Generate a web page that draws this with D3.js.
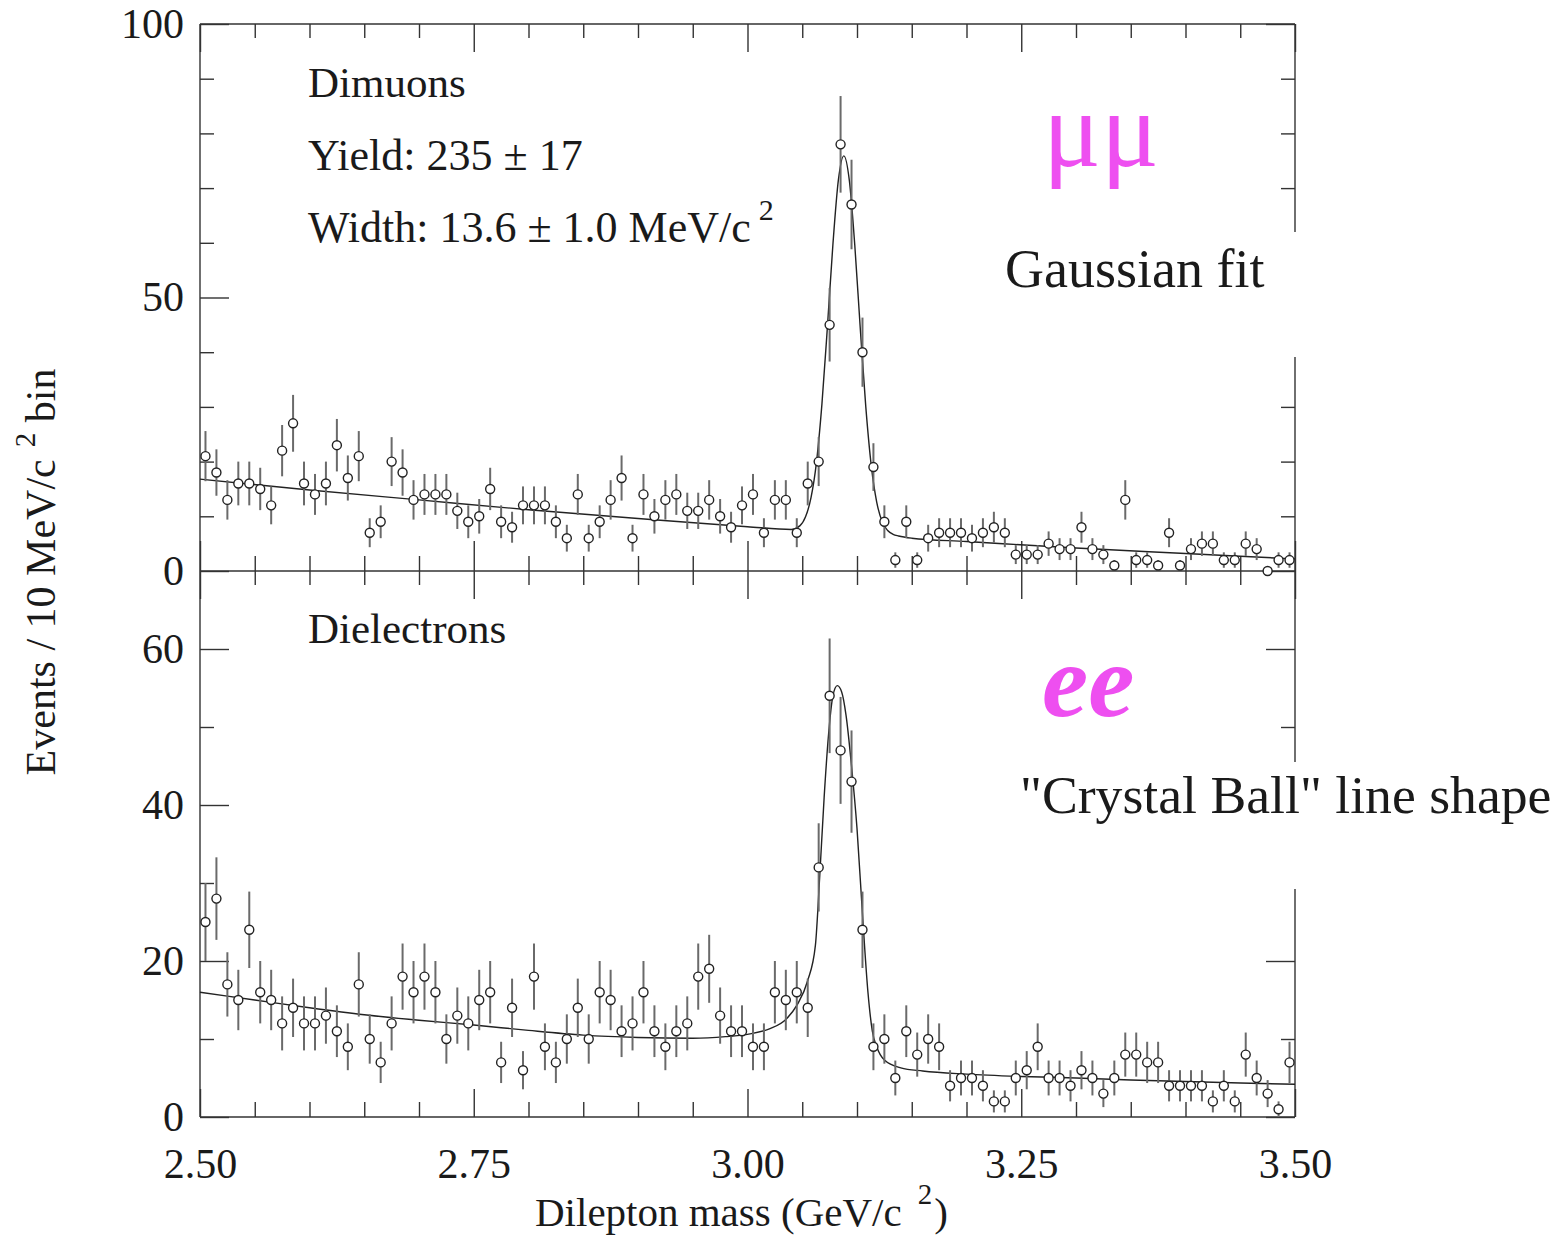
<!DOCTYPE html>
<html>
<head>
<meta charset="utf-8">
<script src="https://cdn.jsdelivr.net/npm/d3@7"></script>
<style>
  body { margin: 0; background: #fff; }
  svg { display: block; }
</style>
</head>
<body>
<div id="chart"></div>
<script>
// Histogram bin centres (10 MeV bins), GeV/c^2
let massCenters = [
  2.505, 2.515, 2.525, 2.535, 2.545, 2.555, 2.565, 2.575, 2.585, 2.595,
  2.605, 2.615, 2.625, 2.635, 2.645, 2.655, 2.665, 2.675, 2.685, 2.695,
  2.705, 2.715, 2.725, 2.735, 2.745, 2.755, 2.765, 2.775, 2.785, 2.795,
  2.805, 2.815, 2.825, 2.835, 2.845, 2.855, 2.865, 2.875, 2.885, 2.895,
  2.905, 2.915, 2.925, 2.935, 2.945, 2.955, 2.965, 2.975, 2.985, 2.995,
  3.005, 3.015, 3.025, 3.035, 3.045, 3.055, 3.065, 3.075, 3.085, 3.095,
  3.105, 3.115, 3.125, 3.135, 3.145, 3.155, 3.165, 3.175, 3.185, 3.195,
  3.205, 3.215, 3.225, 3.235, 3.245, 3.255, 3.265, 3.275, 3.285, 3.295,
  3.305, 3.315, 3.325, 3.335, 3.345, 3.355, 3.365, 3.375, 3.385, 3.395,
  3.405, 3.415, 3.425, 3.435, 3.445, 3.455, 3.465, 3.475, 3.485, 3.495
];

// Dimuon events per bin
let muCounts = [
  21, 18, 13, 16, 16, 15, 12, 22, 27, 16,
  14, 16, 23, 17, 21, 7, 9, 20, 18, 13,
  14, 14, 14, 11, 9, 10, 15, 9, 8, 12,
  12, 12, 9, 6, 14, 6, 9, 13, 17, 6,
  14, 10, 13, 14, 11, 11, 13, 10, 8, 12,
  14, 7, 13, 13, 7, 16, 20, 45, 78, 67,
  40, 19, 9, 2, 9, 2, 6, 7, 7, 7,
  6, 7, 8, 7, 3, 3, 3, 5, 4, 4,
  8, 4, 3, 1, 13, 2, 2, 1, 7, 1,
  4, 5, 5, 2, 2, 5, 4, 0, 2, 2
];

// Dielectron events per bin
let eeCounts = [
  25, 28, 17, 15, 24, 16, 15, 12, 14, 12,
  12, 13, 11, 9, 17, 10, 7, 12, 18, 16,
  18, 16, 10, 13, 12, 15, 16, 7, 14, 6,
  18, 9, 7, 10, 14, 10, 16, 15, 11, 12,
  16, 11, 9, 11, 12, 18, 19, 13, 11, 11,
  9, 9, 16, 15, 16, 14, 32, 54, 47, 43,
  24, 9, 10, 5, 11, 8, 10, 9, 4, 5,
  5, 4, 2, 2, 5, 6, 9, 5, 5, 4,
  6, 5, 3, 5, 8, 8, 7, 7, 4, 4,
  4, 4, 2, 4, 2, 8, 5, 3, 1, 7
];

// Gaussian fit curve
let muFitMass = [2.50, 2.60, 2.70, 2.80, 2.90, 3.00, 3.04, 3.048, 3.053, 3.058, 3.063, 3.068,
  3.073, 3.078, 3.083, 3.088, 3.093, 3.098, 3.103, 3.108, 3.113, 3.118, 3.123, 3.128,
  3.133, 3.138, 3.15, 3.20, 3.30, 3.40, 3.50];
let muFitValue = [16.8, 14.8, 13.0, 11.2, 9.6, 8.1, 7.6, 8.3, 9.9, 13.4, 19.9, 30.6,
  44.7, 59.7, 71.5, 75.9, 71.4, 59.5, 44.3, 30.1, 19.3, 12.6, 9.0, 7.4,
  6.7, 6.4, 6.0, 5.4, 4.2, 3.2, 2.2];

// "Crystal Ball" fit curve
let eeFitMass = [2.50, 2.55, 2.60, 2.65, 2.70, 2.75, 2.80, 2.85, 2.90, 2.95, 2.98, 3.00,
  3.02, 3.035, 3.045, 3.055, 3.062, 3.066, 3.070, 3.074, 3.078, 3.082, 3.086, 3.090,
  3.095, 3.100, 3.105, 3.110, 3.114, 3.118, 3.125, 3.14, 3.16, 3.20, 3.25, 3.30,
  3.35, 3.40, 3.45, 3.50];
let eeFitValue = [16.0, 15.0, 14.0, 13.1, 12.4, 11.8, 11.1, 10.5, 10.2, 10.1, 10.3, 10.6,
  11.3, 12.5, 14.3, 17.5, 22.0, 31.0, 41.0, 49.0, 54.0, 55.3, 54.5, 51.5,
  45.0, 37.0, 26.0, 16.0, 11.0, 9.0, 7.3, 6.3, 5.9, 5.5, 5.2, 5.0,
  4.75, 4.55, 4.35, 4.2];

// Ticks
let xMajor = [2.50, 2.75, 3.00, 3.25, 3.50];
let xMajorLabels = ["2.50", "2.75", "3.00", "3.25", "3.50"];
let xMinor = [2.55, 2.60, 2.65, 2.70, 2.80, 2.85, 2.90, 2.95, 3.05, 3.10, 3.15, 3.20, 3.30, 3.35, 3.40, 3.45];
let muYMajor = [0, 50, 100];
let muYMinor = [10, 20, 30, 40, 60, 70, 80, 90];
let eeYMajor = [0, 20, 40, 60];
let eeYMinor = [10, 30, 50];

let width = 1556, height = 1237;
let left = 200, right = 1295;
let muTop = 24, split = 571, eeBottom = 1117;
let serif = "'Liberation Serif', 'Times New Roman', 'DejaVu Serif', serif";
let ink = "#1a1a1a";

let svg = d3.select("#chart")
            .append("svg")
            .attr("width", width)
            .attr("height", height);

let x = d3.scaleLinear().domain([2.5, 3.5]).range([left, right]);
let yMu = d3.scaleLinear().domain([0, 100]).range([split, muTop]);
let yEe = d3.scaleLinear().domain([0, 70]).range([eeBottom, split]);

// frame
let frame = svg.append("g")
               .attr("stroke", "#333")
               .attr("stroke-width", 1.4);
frame.append("line").attr("x1", left).attr("x2", right).attr("y1", muTop).attr("y2", muTop);
frame.append("line").attr("x1", left).attr("x2", right).attr("y1", split).attr("y2", split);
frame.append("line").attr("x1", left).attr("x2", right).attr("y1", eeBottom).attr("y2", eeBottom);
frame.append("line").attr("x1", left).attr("x2", left).attr("y1", muTop).attr("y2", eeBottom);
frame.append("line").attr("x1", right).attr("x2", right).attr("y1", muTop).attr("y2", eeBottom);

function addAxis(axisFn, scale, tx, ty, values, size, labels, padding) {
  let ax = axisFn(scale)
             .tickValues(values)
             .tickSizeInner(size)
             .tickSizeOuter(0)
             .tickPadding(padding || 0);
  if (labels) {
    ax.tickFormat(function(d, i) { return labels[i]; });
  } else {
    ax.tickFormat(function() { return ""; });
  }
  let g = svg.append("g")
             .attr("transform", "translate(" + tx + "," + ty + ")")
             .call(ax);
  g.select(".domain").remove();
  g.selectAll("line").attr("stroke", "#333").attr("stroke-width", 1.4);
  g.selectAll("text")
   .attr("font-family", serif)
   .attr("font-size", 42)
   .attr("fill", ink);
  return g;
}

// top panel (dimuons)
addAxis(d3.axisLeft, yMu, left, 0, muYMajor, -29, muYMajor.map(String), 16);
addAxis(d3.axisLeft, yMu, left, 0, muYMinor, -14);
addAxis(d3.axisRight, yMu, right, 0, muYMajor, -29);
addAxis(d3.axisRight, yMu, right, 0, muYMinor, -14);
addAxis(d3.axisTop, x, 0, muTop, xMajor, -28);
addAxis(d3.axisTop, x, 0, muTop, xMinor, -14);
addAxis(d3.axisBottom, x, 0, split, xMajor, -30);
addAxis(d3.axisBottom, x, 0, split, xMinor, -15);

// bottom panel (dielectrons)
addAxis(d3.axisLeft, yEe, left, 0, eeYMajor, -29, eeYMajor.map(String), 16);
addAxis(d3.axisLeft, yEe, left, 0, eeYMinor, -14);
addAxis(d3.axisRight, yEe, right, 0, eeYMajor, -29);
addAxis(d3.axisRight, yEe, right, 0, eeYMinor, -14);
addAxis(d3.axisTop, x, 0, split, xMajor, -28);
addAxis(d3.axisTop, x, 0, split, xMinor, -14);
addAxis(d3.axisBottom, x, 0, eeBottom, xMajor, -28, xMajorLabels, 31);
addAxis(d3.axisBottom, x, 0, eeBottom, xMinor, -15);

// fit curves
function drawFit(masses, values, yScale) {
  let pts = masses.map(function(m, i) { return [m, values[i]]; });
  let line = d3.line()
               .x(function(d) { return x(d[0]); })
               .y(function(d) { return yScale(d[1]); })
               .curve(d3.curveMonotoneX);
  svg.append("path")
     .datum(pts)
     .attr("d", line)
     .attr("fill", "none")
     .attr("stroke", "#222")
     .attr("stroke-width", 1.4);
}
drawFit(muFitMass, muFitValue, yMu);
drawFit(eeFitMass, eeFitValue, yEe);

// data points with sqrt(N) error bars
function drawPoints(counts, yScale) {
  let data = counts.map(function(n, i) { return {m: massCenters[i], n: n}; });
  let g = svg.append("g");
  g.selectAll("line")
   .data(data)
   .enter()
   .append("line")
   .attr("x1", function(d) { return x(d.m); })
   .attr("x2", function(d) { return x(d.m); })
   .attr("y1", function(d) { return yScale(d.n + Math.sqrt(d.n)); })
   .attr("y2", function(d) { return yScale(Math.max(0, d.n - Math.sqrt(d.n))); })
   .attr("stroke", "#6a6a6a")
   .attr("stroke-width", 2);
  g.selectAll("circle")
   .data(data)
   .enter()
   .append("circle")
   .attr("cx", function(d) { return x(d.m); })
   .attr("cy", function(d) { return yScale(d.n); })
   .attr("r", 4.5)
   .attr("fill", "#fff")
   .attr("stroke", "#222")
   .attr("stroke-width", 1.4);
}
drawPoints(muCounts, yMu);
drawPoints(eeCounts, yEe);

// pasted-on labels on the right (white backgrounds hide the axis there)
svg.append("rect").attr("x", 990).attr("y", 232).attr("width", 315).attr("height", 125).attr("fill", "#fff");
svg.append("rect").attr("x", 1010).attr("y", 762).attr("width", 546).attr("height", 127).attr("fill", "#fff");

function label(txt, tx, ty, size, opts) {
  opts = opts || {};
  return svg.append("text")
            .attr("x", tx)
            .attr("y", ty)
            .attr("font-family", opts.family || serif)
            .attr("font-size", size)
            .attr("font-style", opts.style || "normal")
            .attr("font-weight", opts.weight || "normal")
            .attr("fill", opts.fill || ink)
            .text(txt);
}

label("Dimuons", 308, 97, 43);
label("Yield: 235 \u00b1 17", 308, 170, 44);
let w = label("Width: 13.6 \u00b1 1.0 MeV/c", 308, 242, 44);
w.append("tspan").attr("dx", 8).attr("dy", -22).attr("font-size", 30).text("2");
label("Dielectrons", 308, 643, 43);

label("\u03bc\u03bc", 1043, 166, 108, {fill: "#ee4ff0"});
label("ee", 1042, 716, 104, {fill: "#ee4ff0", style: "italic", weight: "bold"});
label("Gaussian fit", 1005, 287, 54);
label("\"Crystal Ball\" line shape", 1020, 813, 53.7);

// axis titles
let xt = label("Dilepton mass (GeV/c", 535, 1226, 41);
xt.append("tspan").attr("dx", 16).attr("dy", -22).attr("font-size", 29).text("2");
xt.append("tspan").attr("dx", 2).attr("dy", 22).attr("font-size", 41).text(")");

let yt = svg.append("text")
            .attr("transform", "translate(55,572) rotate(-90)")
            .attr("text-anchor", "middle")
            .attr("font-family", serif)
            .attr("font-size", 42)
            .attr("fill", ink)
            .text("Events / 10 MeV/c");
yt.append("tspan").attr("dx", 12).attr("dy", -20).attr("font-size", 29).text("2");
yt.append("tspan").attr("dy", 20).attr("font-size", 42).text(" bin");
</script>
</body>
</html>
